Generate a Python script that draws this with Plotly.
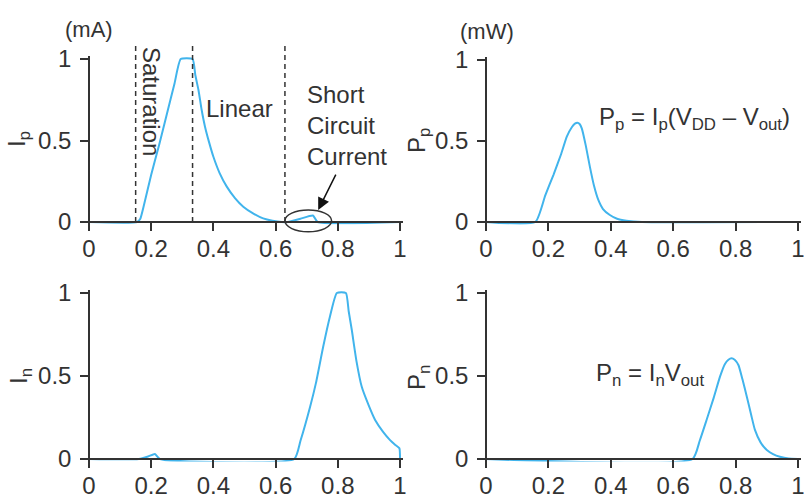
"""
CMOS inverter currents and power vs. input voltage (2x2 panels)
"""

import plotly.graph_objects as go

# =====================================================
# Data
# =====================================================

ip_x = [0, 0.155, 0.165, 0.175, 0.2, 0.225, 0.25, 0.275, 0.295, 0.333, 0.342, 0.352,
        0.362, 0.373, 0.386, 0.40, 0.42, 0.443, 0.47, 0.496, 0.53, 0.56, 0.59, 0.62,
        0.64, 0.68, 0.72, 0.735, 1.0]
ip_y = [0, 0, 0.02, 0.09, 0.29, 0.47, 0.66, 0.85, 1.0, 1.0, 0.90, 0.81,
        0.69, 0.585, 0.49, 0.40, 0.30, 0.217, 0.145, 0.094, 0.05, 0.022, 0.008, 0.0,
        0.0, 0.02, 0.04, 0.0, 0]

in_x = [0, 0.16, 0.19, 0.212, 0.228, 0.66, 0.68, 0.711, 0.73, 0.753, 0.775, 0.797,
        0.826, 0.835, 0.845, 0.86, 0.877, 0.90, 0.92, 0.945, 0.968, 0.985, 0.998, 1.0]
in_y = [0, 0, 0.015, 0.03, 0, 0, 0.11, 0.315, 0.46, 0.676, 0.86, 1.0,
        1.0, 0.89, 0.777, 0.59, 0.435, 0.32, 0.235, 0.165, 0.114, 0.085, 0.065, 0]

pp_x = [0, 0.158, 0.19, 0.216, 0.24, 0.259, 0.275, 0.285, 0.293, 0.30, 0.307, 0.32,
        0.333, 0.346, 0.36, 0.375, 0.397, 0.42, 0.45, 0.5, 1.0]
pp_y = [0, 0, 0.165, 0.29, 0.415, 0.527, 0.585, 0.607, 0.613, 0.605, 0.578, 0.47,
        0.34, 0.225, 0.136, 0.08, 0.043, 0.02, 0.008, 0, 0]

pn_x = [0, 0.662, 0.685, 0.707, 0.73, 0.75, 0.765, 0.777, 0.787, 0.797, 0.809, 0.822,
        0.836, 0.85, 0.862, 0.88, 0.90, 0.92, 0.942, 0.97, 1.0]
pn_y = [0, 0, 0.11, 0.235, 0.37, 0.496, 0.57, 0.598, 0.607, 0.598, 0.566, 0.48,
        0.375, 0.265, 0.175, 0.10, 0.054, 0.03, 0.014, 0.003, 0]

x_ticks = [0, 0.2, 0.4, 0.6, 0.8, 1]
x_tick_text = ["0", "0.2", "0.4", "0.6", "0.8", "1"]
y_ticks = [0, 0.5, 1]
y_tick_text = ["0", "0.5", "1"]

region_bounds = [0.15, 0.333, 0.63]
short_circuit_box = [0.63, 0.78, -0.06, 0.074]

# =====================================================
# Style / geometry
# =====================================================

W, H = 804, 495
FONT = "Liberation Sans, Arial, Helvetica, sans-serif"
TEXT = "#333333"
AXIS = "#333333"
BLUE = "#41b4ec"

PAD_X, PAD_LO, PAD_HI = 0.01, 0.015, 0.02

# pixel positions of value 0 / 1 on each panel: (x0, x1, y0, y1)
panels = {
    "": (89, 400, 222, 59),
    "2": (486, 798, 222, 60),
    "3": (89, 400, 459, 293),
    "4": (486, 798, 459, 293),
}

fig = go.Figure()

curves = [("", ip_x, ip_y), ("2", pp_x, pp_y), ("3", in_x, in_y), ("4", pn_x, pn_y)]

for sfx, xs, ys in curves:

    fig.add_trace(

        go.Scatter(

            x=xs,

            y=ys,

            mode="lines",

            line=dict(color=BLUE, width=2, shape="spline", smoothing=0.5),

            xaxis="x" + sfx,

            yaxis="y" + sfx,

            showlegend=False,

            hoverinfo="skip"

        )

    )

axes = {}

for sfx, (x0, x1, y0, y1) in panels.items():

    sx = x1 - x0
    sy = y0 - y1

    axes["xaxis" + sfx] = dict(

        domain=[(x0 - PAD_X * sx) / W, (x1 + PAD_X * sx) / W],

        range=[-PAD_X, 1 + PAD_X],

        anchor="free",

        position=1 - y0 / H,

        showline=True,

        linecolor=AXIS,

        linewidth=1.5,

        ticks="outside",

        ticklen=8,

        tickwidth=1.5,

        tickcolor=AXIS,

        tickvals=x_ticks,

        ticktext=x_tick_text,

        ticklabelstandoff=-3,

        ticklabeloverflow="allow",

        showgrid=False,

        zeroline=False,

        automargin=False,

        tickfont=dict(family=FONT, size=24, color=TEXT)

    )

    axes["yaxis" + sfx] = dict(

        domain=[1 - (y0 + PAD_LO * sy) / H, 1 - (y1 - PAD_HI * sy) / H],

        range=[-PAD_LO, 1 + PAD_HI],

        anchor="free",

        position=x0 / W,

        showline=True,

        linecolor=AXIS,

        linewidth=1.5,

        ticks="outside",

        ticklen=8,

        tickwidth=1.5,

        tickcolor=AXIS,

        tickvals=y_ticks,

        ticktext=y_tick_text,

        ticklabelstandoff=4,

        ticklabeloverflow="allow",

        showgrid=False,

        zeroline=False,

        automargin=False,

        tickfont=dict(family=FONT, size=24, color=TEXT)

    )


def paper_y(sfx, v):

    x0, x1, y0, y1 = panels[sfx]

    return 1 - (y0 - v * (y0 - y1)) / H


# =====================================================
# Shapes: region boundaries + short-circuit ellipse
# =====================================================

shapes = []

for b in region_bounds:

    shapes.append(

        dict(

            type="line",

            xref="x",

            yref="paper",

            x0=b,

            x1=b,

            y0=paper_y("", 0),

            y1=paper_y("", 1.085),

            line=dict(color=AXIS, width=1.5, dash="5px,4px")

        )

    )

shapes.append(

    dict(

        type="circle",

        xref="x",

        yref="paper",

        x0=short_circuit_box[0],

        x1=short_circuit_box[1],

        y0=paper_y("", short_circuit_box[2]),

        y1=paper_y("", short_circuit_box[3]),

        line=dict(color=AXIS, width=1.5)

    )

)

# =====================================================
# Annotations
# =====================================================

txt = dict(family=FONT, size=24, color=TEXT)
mid = dict(xanchor="center", yanchor="middle", showarrow=False)

annotations = [

    dict(text="(mA)", xref="paper", yref="paper", x=89 / W, y=1 - 30 / H,
         font=dict(family=FONT, size=22, color=TEXT), **mid),

    dict(text="(mW)", xref="paper", yref="paper", x=487 / W, y=1 - 32 / H,
         font=dict(family=FONT, size=22, color=TEXT), **mid),

    dict(text="I<sub>p</sub>", xref="paper", yref="paper", x=18 / W, y=1 - 139 / H,
         textangle=-90, font=txt, **mid),

    dict(text="P<sub>p</sub>", xref="paper", yref="paper", x=418 / W, y=1 - 141 / H,
         textangle=-90, font=txt, **mid),

    dict(text="I<sub>n</sub>", xref="paper", yref="paper", x=20 / W, y=1 - 376 / H,
         textangle=-90, font=txt, **mid),

    dict(text="P<sub>n</sub>", xref="paper", yref="paper", x=418 / W, y=1 - 378 / H,
         textangle=-90, font=txt, **mid),

    dict(text="Saturation", xref="x", yref="y", x=0.203, y=0.742,
         textangle=90, font=txt, **mid),

    dict(text="Linear", xref="x", yref="y", x=0.484, y=0.696,
         font=txt, **mid),

    dict(text="Short<br>Circuit<br>Current", xref="x", yref="y", x=0.695, y=0.589,
         xanchor="left", yanchor="middle", align="left", showarrow=False, font=txt),

    dict(text="", xref="x", yref="y", x=0.737, y=0.074,
         axref="x", ayref="y", ax=0.796, ay=0.30,
         showarrow=True, arrowhead=2, arrowsize=1.6, arrowwidth=1.5,
         arrowcolor="#111111", standoff=0),

    dict(text="P<sub>p</sub> = I<sub>p</sub>(V<sub>DD</sub> \u2013 V<sub>out</sub>)",
         xref="x2", yref="y2", x=0.668, y=0.64,
         font=txt, **mid),

    dict(text="P<sub>n</sub> = I<sub>n</sub>V<sub>out</sub>",
         xref="x4", yref="y4", x=0.526, y=0.51,
         font=txt, **mid),

]

fig.update_layout(

    width=W,

    height=H,

    margin=dict(l=0, r=0, t=0, b=0, autoexpand=False),

    paper_bgcolor="white",

    plot_bgcolor="white",

    showlegend=False,

    shapes=shapes,

    annotations=annotations,

    **axes

)

# the page body has a default 8px margin; drop it so the figure sits at (0, 0)
fig.write_html(

    "out.html",

    config={"displayModeBar": False},

    post_script="document.body.style.margin='0';"

)
